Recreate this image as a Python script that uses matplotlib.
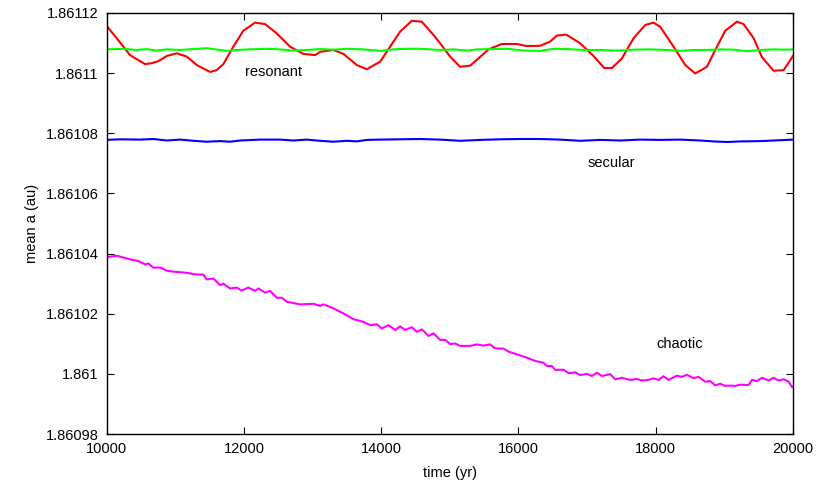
import matplotlib
matplotlib.use("Agg")
import matplotlib.pyplot as plt
from matplotlib.ticker import FuncFormatter, MultipleLocator

plt.rcParams["font.family"] = ["Liberation Sans", "DejaVu Sans"]
plt.rcParams["font.size"] = 10.5

# ---------------- data ----------------
t_res = [10000, 10146, 10340, 10558, 10656, 10753, 10875, 11020, 11166, 11312,
         11506, 11603, 11700, 11845, 11991, 12162, 12308, 12478, 12672, 12866,
         13037, 13110, 13303, 13449, 13644, 13790, 13984, 14130, 14275, 14446,
         14592, 14761, 14859, 15004, 15150, 15296, 15417, 15563, 15758, 15977,
         16122, 16317, 16462, 16560, 16696, 16900, 17094, 17250, 17362, 17507,
         17677, 17847, 17968, 18066, 18260, 18430, 18576, 18746, 18867, 19013,
         19184, 19281, 19427, 19548, 19718, 19864, 20000]
a_res = [1.8611157, 1.8611116, 1.8611060, 1.8611030, 1.8611033, 1.8611040,
         1.8611057, 1.8611066, 1.8611055, 1.8611027, 1.8611004, 1.8611010,
         1.8611030, 1.8611088, 1.8611141, 1.8611168, 1.8611163, 1.8611132,
         1.8611088, 1.8611064, 1.8611060, 1.8611071, 1.8611077, 1.8611064,
         1.8611027, 1.8611013, 1.8611038, 1.8611088, 1.8611138, 1.8611174,
         1.8611171, 1.8611127, 1.8611099, 1.8611055, 1.8611021, 1.8611025,
         1.8611049, 1.8611079, 1.8611097, 1.8611097, 1.8611090, 1.8611091,
         1.8611105, 1.8611125, 1.8611128, 1.8611099, 1.8611057, 1.8611017,
         1.8611017, 1.8611049, 1.8611116, 1.8611160, 1.8611168, 1.8611154,
         1.8611088, 1.8611027, 1.8610999, 1.8611021, 1.8611077, 1.8611141,
         1.8611171, 1.8611163, 1.8611116, 1.8611053, 1.8611008, 1.8611010,
         1.8611057]

t_grn = [10000, 10243, 10437, 10583, 10729, 10875, 11069, 11263, 11458, 11652,
         11749, 11895, 12089, 12332, 12526, 12720, 12915, 13109, 13303, 13498,
         13741, 13984, 14178, 14373, 14567, 14859, 15053, 15248, 15393, 15588,
         15831, 16074, 16317, 16511, 16705, 16948, 17191, 17434, 17677, 17920,
         18163, 18357, 18552, 18746, 18940, 19135, 19329, 19524, 19718, 19912,
         20000]
a_grn = [1.8611079, 1.8611081, 1.8611077, 1.8611080, 1.8611075, 1.8611079,
         1.8611077, 1.8611080, 1.8611083, 1.8611077, 1.8611074, 1.8611077,
         1.8611079, 1.8611081, 1.8611079, 1.8611075, 1.8611077, 1.8611080,
         1.8611078, 1.8611081, 1.8611079, 1.8611074, 1.8611079, 1.8611081,
         1.8611081, 1.8611077, 1.8611079, 1.8611075, 1.8611079, 1.8611080,
         1.8611081, 1.8611075, 1.8611074, 1.8611081, 1.8611080, 1.8611077,
         1.8611077, 1.8611075, 1.8611078, 1.8611079, 1.8611077, 1.8611074,
         1.8611077, 1.8611077, 1.8611079, 1.8611078, 1.8611073, 1.8611077,
         1.8611079, 1.8611078, 1.8611079]

t_sec = [10000, 10194, 10486, 10680, 10875, 11069, 11263, 11458, 11652, 11798,
         11943, 12235, 12526, 12720, 12915, 13109, 13303, 13498, 13644, 13790,
         13984, 14276, 14567, 14859, 15151, 15442, 15734, 16025, 16317, 16608,
         16900, 17191, 17483, 17774, 18066, 18357, 18649, 18843, 19038, 19232,
         19523, 19718, 20000]
a_sec = [1.8610778, 1.8610780, 1.8610779, 1.8610781, 1.8610776, 1.8610779,
         1.8610775, 1.8610772, 1.8610774, 1.8610772, 1.8610776, 1.8610779,
         1.8610779, 1.8610776, 1.8610779, 1.8610775, 1.8610772, 1.8610775,
         1.8610773, 1.8610778, 1.8610779, 1.8610780, 1.8610781, 1.8610779,
         1.8610775, 1.8610778, 1.8610780, 1.8610781, 1.8610781, 1.8610779,
         1.8610775, 1.8610778, 1.8610776, 1.8610779, 1.8610778, 1.8610779,
         1.8610776, 1.8610773, 1.8610771, 1.8610773, 1.8610774, 1.8610776,
         1.8610779]

t_cha = [10000, 10146, 10340, 10461, 10558, 10607, 10680, 10777, 10875, 10971,
         11166, 11287, 11409, 11458, 11555, 11652, 11700, 11797, 11895, 11967,
         12064, 12162, 12211, 12308, 12381, 12478, 12551, 12623, 12818, 13012,
         13110, 13158, 13303, 13449, 13595, 13741, 13838, 13935, 14008, 14106,
         14203, 14275, 14349, 14446, 14519, 14592, 14689, 14762, 14859, 14932,
         15004, 15077, 15150, 15296, 15393, 15490, 15587, 15660, 15782, 15855,
         15977, 16122, 16244, 16365, 16414, 16487, 16535, 16657, 16730, 16827,
         16900, 16997, 17070, 17143, 17216, 17337, 17410, 17507, 17628, 17726,
         17799, 17896, 17968, 18041, 18114, 18187, 18309, 18381, 18454, 18551,
         18624, 18721, 18794, 18867, 18940, 19013, 19086, 19159, 19232, 19354,
         19403, 19475, 19548, 19645, 19718, 19791, 19864, 19937, 19986, 20000]
a_cha = [1.8610388, 1.8610393, 1.8610381, 1.8610375, 1.8610364, 1.8610367,
         1.8610353, 1.8610354, 1.8610343, 1.8610340, 1.8610336, 1.8610331,
         1.8610330, 1.8610314, 1.8610317, 1.8610295, 1.8610300, 1.8610284,
         1.8610287, 1.8610277, 1.8610287, 1.8610276, 1.8610284, 1.8610270,
         1.8610276, 1.8610253, 1.8610253, 1.8610240, 1.8610231, 1.8610233,
         1.8610226, 1.8610231, 1.8610218, 1.8610201, 1.8610182, 1.8610173,
         1.8610162, 1.8610165, 1.8610151, 1.8610162, 1.8610146, 1.8610158,
         1.8610146, 1.8610155, 1.8610140, 1.8610148, 1.8610126, 1.8610135,
         1.8610113, 1.8610113, 1.8610099, 1.8610101, 1.8610093, 1.8610093,
         1.8610098, 1.8610094, 1.8610098, 1.8610085, 1.8610084, 1.8610074,
         1.8610065, 1.8610054, 1.8610043, 1.8610037, 1.8610026, 1.8610026,
         1.8610013, 1.8610014, 1.8610002, 1.8610005, 1.8609996, 1.8610000,
         1.8609993, 1.8610004, 1.8609993, 1.8609999, 1.8609982, 1.8609987,
         1.8609980, 1.8609983, 1.8609978, 1.8609980, 1.8609985, 1.8609980,
         1.8609992, 1.8609980, 1.8609994, 1.8609990, 1.8609997, 1.8609986,
         1.8609990, 1.8609974, 1.8609976, 1.8609962, 1.8609967, 1.8609960,
         1.8609961, 1.8609960, 1.8609964, 1.8609963, 1.8609980, 1.8609976,
         1.8609987, 1.8609978, 1.8609987, 1.8609978, 1.8609982, 1.8609974,
         1.8609956, 1.8609958]

# ---------------- figure ----------------
fig = plt.figure(figsize=(8.17, 4.83), dpi=100)
ax = fig.add_axes([0.1306, 0.1014, 0.8400, 0.8717])

lw = 1.5
ax.plot(t_res, a_res, color="#ff0000", lw=lw)
ax.plot(t_grn, a_grn, color="#00ff00", lw=lw)
ax.plot(t_sec, a_sec, color="#0000ff", lw=lw)
ax.plot(t_cha, a_cha, color="#ff00ff", lw=lw)

ax.text(12424, 1.8611004, "resonant", ha="center", va="center")
ax.text(17351, 1.8610701, "secular", ha="center", va="center")
ax.text(18343, 1.8610099, "chaotic", ha="center", va="center")

ax.set_xlim(10000, 20000)
ax.set_ylim(1.86098, 1.86112)
ax.xaxis.set_major_locator(MultipleLocator(2000))
ax.yaxis.set_major_locator(MultipleLocator(0.00002))
ax.yaxis.set_major_formatter(FuncFormatter(lambda v, p: "%g" % round(v, 6)))
ax.tick_params(direction="in", length=5, width=0.8, top=True, right=True,
               pad=6, labelsize=10.5)
for s in ax.spines.values():
    s.set_linewidth(1.0)

ax.set_xlabel("time (yr)", labelpad=7)
ax.set_ylabel("mean a (au)", labelpad=5)

fig.savefig("out.png", dpi=100)
